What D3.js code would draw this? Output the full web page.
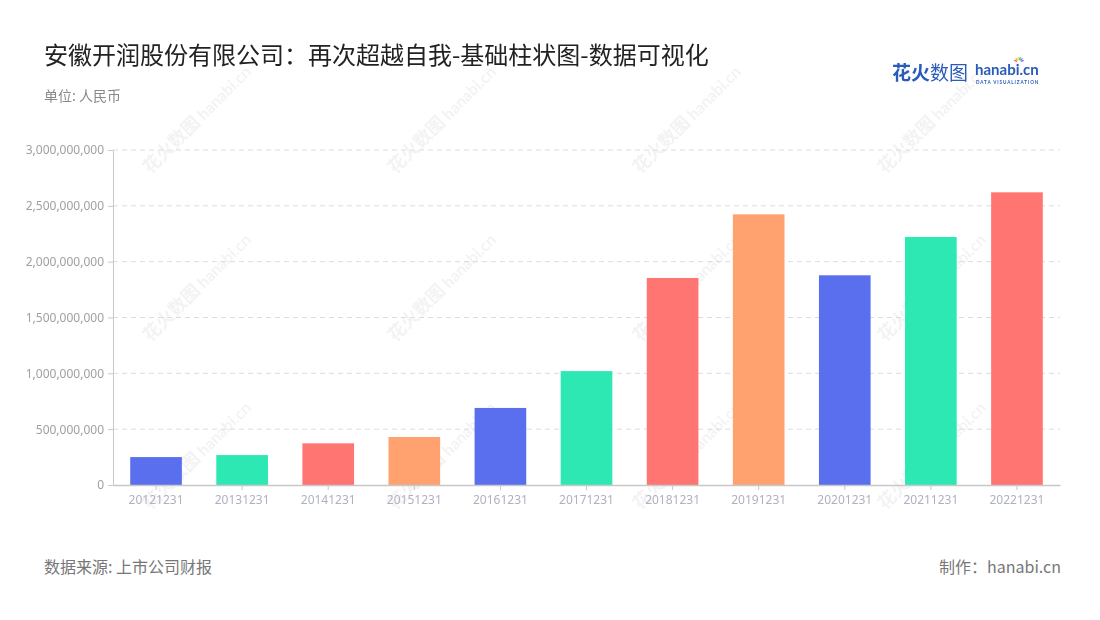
<!DOCTYPE html>
<html><head><meta charset="utf-8">
<script src="https://cdn.jsdelivr.net/npm/d3@7"></script>
<style>
body{margin:0;background:#fff;}
svg{display:block;font-family:"Noto Sans CJK SC","Noto Sans",sans-serif;}
</style></head>
<body>
<svg id="c" width="1100" height="620"></svg>
<script>
const categories = ["20121231","20131231","20141231","20151231","20161231","20171231","20181231","20191231","20201231","20211231","20221231"];
const values = [250000000,268000000,373000000,430000000,690000000,1020000000,1854000000,2424000000,1878000000,2221000000,2621000000];
const yTicks = [0,500000000,1000000000,1500000000,2000000000,2500000000,3000000000];
const palette = ["#5A6FEE","#2EE8B3","#FF7571","#FFA270"];

const svg = d3.select("#c");
const m = {l:113, r:1060, t:150, b:485};

// watermarks
const wm = svg.append("g").attr("opacity",0.06);
for (let r=0;r<3;r++){
  for (let c=0;c<4;c++){
    const cx = 180 + c*245, cy = 145 + r*168;
    const g = wm.append("g").attr("transform",`translate(${cx},${cy}) rotate(-45)`);
    g.append("text").attr("x",-42).attr("y",0).attr("font-size",18).attr("font-weight",700).attr("fill","#333").text("花火数图");
    g.append("text").attr("x",34).attr("y",0).attr("font-size",16).attr("font-weight",700).attr("fill","#333").attr("font-family","Lato,sans-serif").text("hanabi.cn");
  }
}

// title
svg.append("text").attr("x",44).attr("y",64).attr("font-size",24).attr("fill","#222").text("安徽开润股份有限公司：再次超越自我-基础柱状图-数据可视化");
svg.append("text").attr("x",44).attr("y",101).attr("font-size",14).attr("fill","#888").text("单位: 人民币");

// logo
const lg = svg.append("g");
lg.append("text").attr("x",892).attr("y",80).attr("font-size",19).attr("font-weight",700).attr("fill","#2a5bb8").text("花火");
lg.append("text").attr("x",930).attr("y",80).attr("font-size",19).attr("fill","#2a5bb8").text("数图");
lg.append("text").attr("x",975).attr("y",75).attr("font-size",15).attr("font-weight",700).attr("fill","#2a5bb8").attr("font-family","Lato,sans-serif").text("hanabi.cn");
lg.append("text").attr("x",976).attr("y",83.5).attr("font-size",4.6).attr("font-weight",700).attr("fill","#2a5bb8").attr("letter-spacing",0.9).attr("font-family","Lato,sans-serif").text("DATA VISUALIZATION");
const sparkC=["#ff5a5a","#ffb03a","#ffe040","#4ad07a","#3aa0ff","#a060ff"];
sparkC.forEach((col,i)=>{const a=-Math.PI*0.9+i*Math.PI*0.16;lg.append("line").attr("x1",1019+Math.cos(a)*2).attr("y1",62+Math.sin(a)*2).attr("x2",1019+Math.cos(a)*5).attr("y2",62+Math.sin(a)*5).attr("stroke",col).attr("stroke-width",1.4);});

// scales
const x = d3.scaleBand().domain(categories).range([m.l,m.r]).paddingInner(0.4).paddingOuter(0.2);
const y = d3.scaleLinear().domain([0,3000000000]).range([m.b,m.t]);

// grid
svg.append("g").selectAll("line").data(yTicks.filter(d=>d>0)).join("line")
  .attr("x1",m.l).attr("x2",m.r).attr("y1",d=>y(d)).attr("y2",d=>y(d))
  .attr("stroke","#dcdcdc").attr("stroke-dasharray","5,4");

// bars
svg.append("g").selectAll("rect").data(values).join("rect")
  .attr("x",(d,i)=>x(categories[i])).attr("width",x.bandwidth())
  .attr("y",d=>y(d)).attr("height",d=>m.b-y(d))
  .attr("fill",(d,i)=>palette[i%4]);

// y axis
const ya = svg.append("g").attr("transform",`translate(${m.l},0)`)
  .call(d3.axisLeft(y).tickValues(yTicks).tickSize(5).tickPadding(4).tickFormat(d3.format(",")));
ya.select(".domain").attr("stroke","#c8c8c8").attr("stroke-width",1);
ya.selectAll(".tick line").attr("stroke","#c8c8c8");
ya.selectAll("text").attr("fill","#a0a0a0").attr("font-size",12).attr("font-family","'Noto Sans',sans-serif");

// x axis
const xa = svg.append("g").attr("transform",`translate(0,${m.b})`)
  .call(d3.axisBottom(x).tickSize(5).tickPadding(5).tickSizeOuter(0));
xa.select(".domain").attr("stroke","#c8c8c8").attr("stroke-width",1.5);
xa.selectAll(".tick line").attr("stroke","#c8c8c8");
xa.selectAll("text").attr("fill","#aeb2c0").attr("font-size",12).attr("font-family","'Noto Sans',sans-serif");

// footer
svg.append("text").attr("x",44).attr("y",573).attr("font-size",16).attr("fill","#777").text("数据来源: 上市公司财报");
svg.append("text").attr("x",1061).attr("y",573).attr("text-anchor","end").attr("font-size",16).attr("fill","#777").text("制作：hanabi.cn");
</script>
</body></html>
